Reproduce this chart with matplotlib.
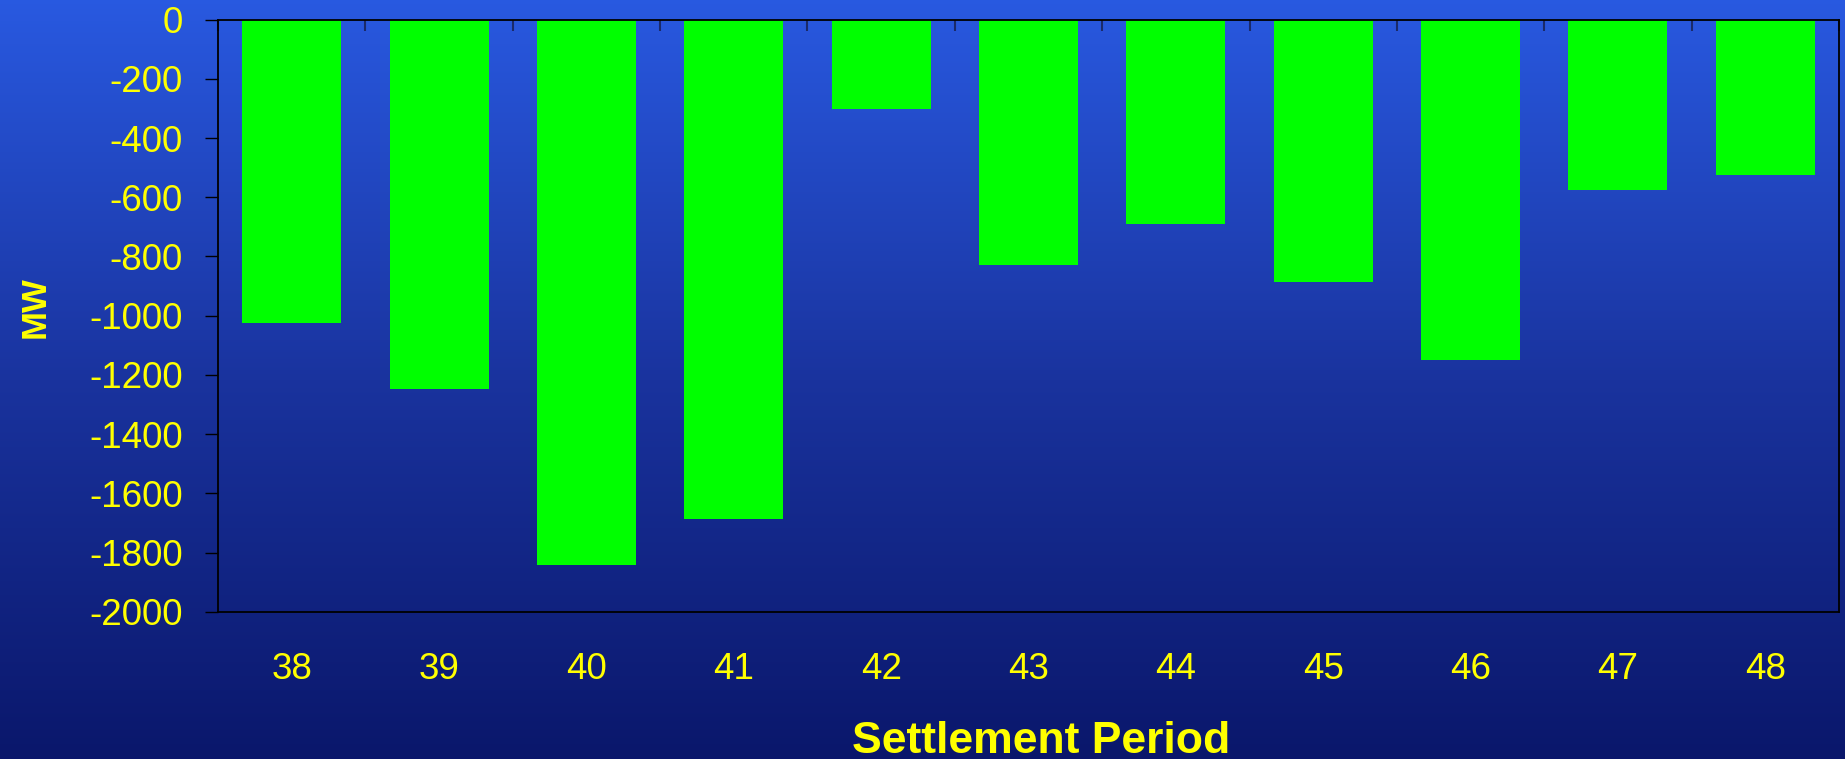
import numpy as np
import matplotlib
matplotlib.use('Agg')
import matplotlib.pyplot as plt
from matplotlib.colors import LinearSegmentedColormap

periods = ['38', '39', '40', '41', '42', '43', '44', '45', '46', '47', '48']
mw = [-1025, -1247, -1841, -1686, -302, -828, -689, -886, -1150, -575, -525]
y_ticks = [0, -200, -400, -600, -800, -1000, -1200, -1400, -1600, -1800, -2000]


def main():
    plt.rcParams['font.family'] = ['Liberation Sans', 'DejaVu Sans']
    fig = plt.figure(figsize=(18.45, 7.59), dpi=100)

    # blue vertical gradient background
    bg = fig.add_axes([0, 0, 1, 1], zorder=-10)
    cmap = LinearSegmentedColormap.from_list(
        'bg', [(0.04, 0.09, 0.42), (0.10, 0.20, 0.62), (0.16, 0.35, 0.88)])
    grad = np.linspace(0, 1, 256).reshape(-1, 1)
    bg.imshow(grad, aspect='auto', cmap=cmap, origin='lower', extent=[0, 1, 0, 1])
    bg.axis('off')

    ax = fig.add_axes([0.1182, 0.1937, 0.8785, 0.7806])
    ax.set_facecolor('none')
    x = np.arange(len(periods))
    ax.bar(x, mw, width=0.672, color='#00ff00', edgecolor='none', zorder=2)

    ax.set_xlim(-0.5, len(periods) - 0.5)
    ax.set_ylim(-2000, 0)
    ax.set_yticks(y_ticks)
    ax.set_yticklabels([str(v) for v in y_ticks])
    ax.set_xticks(x)
    ax.set_xticklabels(periods)
    ax.set_xticks(np.arange(len(periods) + 1) - 0.5, minor=True)

    ax.tick_params(axis='y', direction='out', length=9.5, width=1, color='black',
                   labelcolor='#ffff00', labelsize=26.5, pad=16)
    ax.tick_params(axis='x', which='major', length=0, labelcolor='#ffff00',
                   labelsize=26.5, pad=29)
    ax.tick_params(axis='x', which='minor', top=True, bottom=False, direction='in',
                   length=8, width=1.5, color='#1a2a6a')
    for s in ax.spines.values():
        s.set_color('black')
        s.set_linewidth(1.3)

    fig.text(0.5645, 0.023, 'Settlement Period', color='#ffff00', fontsize=32,
             fontweight='bold', ha='center', va='center')
    fig.text(0.019, 0.5955, 'MW', color='#ffff00', fontsize=25, fontweight='bold',
             rotation=90, ha='center', va='center')

    fig.savefig('out.png', dpi=100)


if __name__ == '__main__':
    main()
